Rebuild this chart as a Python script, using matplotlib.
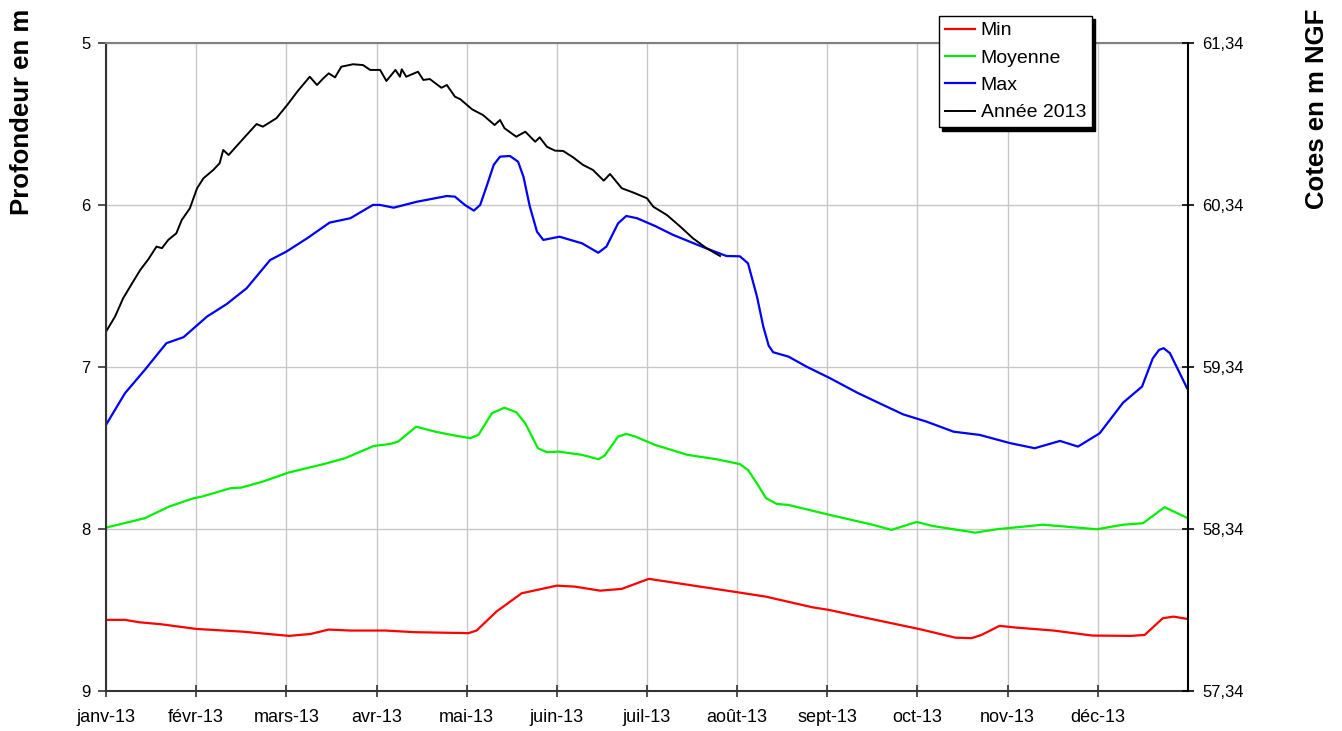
import matplotlib
matplotlib.use("Agg")
import matplotlib.pyplot as plt
from matplotlib.ticker import FuncFormatter

plt.rcParams['font.family'] = ['Liberation Sans', 'DejaVu Sans']

# Mois (axe des x en mois depuis le 1er janvier)
mois = ["janv-13", "févr-13", "mars-13", "avr-13", "mai-13", "juin-13",
        "juil-13", "août-13", "sept-13", "oct-13", "nov-13", "déc-13"]

# Année 2013 (profondeur en m)
x_2013 = [0.00, 0.10, 0.19, 0.29, 0.38, 0.47, 0.56, 0.62, 0.69, 0.78, 0.84, 0.93,
          1.01, 1.08, 1.19, 1.26, 1.30, 1.36, 1.45, 1.56, 1.67, 1.74, 1.89, 2.01,
          2.13, 2.26, 2.34, 2.41, 2.47, 2.54, 2.61, 2.74, 2.85, 2.93, 3.04, 3.11,
          3.21, 3.26, 3.28, 3.33, 3.46, 3.52, 3.59, 3.72, 3.78, 3.87, 3.93, 4.06,
          4.18, 4.31, 4.37, 4.42, 4.55, 4.65, 4.76, 4.81, 4.89, 4.98, 5.07, 5.18,
          5.29, 5.40, 5.52, 5.59, 5.72, 5.85, 6.00, 6.07, 6.22, 6.37, 6.51, 6.66,
          6.81]
y_2013 = [6.783, 6.69, 6.577, 6.484, 6.402, 6.336, 6.258, 6.268, 6.217, 6.176, 6.094, 6.022,
          5.898, 5.837, 5.785, 5.744, 5.662, 5.693, 5.637, 5.569, 5.502, 5.518, 5.466, 5.384,
          5.296, 5.21, 5.261, 5.22, 5.189, 5.214, 5.148, 5.133, 5.138, 5.168, 5.168, 5.236,
          5.168, 5.21, 5.164, 5.21, 5.179, 5.23, 5.224, 5.278, 5.261, 5.333, 5.349, 5.411,
          5.446, 5.508, 5.477, 5.528, 5.58, 5.549, 5.611, 5.584, 5.642, 5.666, 5.668, 5.707,
          5.754, 5.785, 5.851, 5.81, 5.898, 5.925, 5.96, 6.012, 6.063, 6.135, 6.207, 6.268,
          6.316]

# Max
x_max = [0.00, 0.21, 0.43, 0.67, 0.86, 1.12, 1.34, 1.56, 1.82, 2.00, 2.23, 2.48,
         2.71, 2.96, 3.04, 3.19, 3.45, 3.78, 3.87, 3.98, 4.08, 4.15, 4.22, 4.30,
         4.37, 4.48, 4.57, 4.63, 4.70, 4.78, 4.85, 5.03, 5.28, 5.46, 5.55, 5.68,
         5.77, 5.89, 6.09, 6.29, 6.59, 6.88, 7.03, 7.12, 7.22, 7.29, 7.35, 7.40,
         7.57, 7.77, 8.03, 8.33, 8.58, 8.84, 9.10, 9.40, 9.69, 10.03, 10.30, 10.58,
         10.78, 11.02, 11.28, 11.49, 11.61, 11.68, 11.73, 11.80, 11.99]
y_max = [7.358, 7.163, 7.019, 6.854, 6.817, 6.69, 6.612, 6.515, 6.341, 6.289, 6.207, 6.11,
         6.083, 6.001, 6.001, 6.018, 5.981, 5.946, 5.95, 6.001, 6.036, 6.001, 5.888, 5.754,
         5.703, 5.699, 5.734, 5.827, 6.01, 6.166, 6.217, 6.197, 6.238, 6.296, 6.258, 6.114,
         6.069, 6.083, 6.131, 6.186, 6.254, 6.316, 6.318, 6.361, 6.567, 6.752, 6.87, 6.91,
         6.937, 6.999, 7.07, 7.159, 7.225, 7.293, 7.338, 7.4, 7.42, 7.471, 7.502, 7.457,
         7.492, 7.41, 7.221, 7.122, 6.947, 6.895, 6.885, 6.916, 7.132]

# Moyenne
x_moy = [0.00, 0.43, 0.70, 0.97, 1.06, 1.38, 1.50, 1.74, 2.02, 2.42, 2.65, 2.97,
         3.15, 3.24, 3.44, 3.65, 3.87, 4.04, 4.13, 4.28, 4.42, 4.55, 4.65, 4.79,
         4.89, 5.02, 5.28, 5.46, 5.53, 5.68, 5.77, 5.87, 6.09, 6.45, 6.77, 7.03,
         7.12, 7.22, 7.32, 7.44, 7.57, 8.03, 8.51, 8.71, 8.99, 9.17, 9.64, 9.88,
         10.39, 10.99, 11.28, 11.50, 11.74, 12.00]
y_moy = [7.992, 7.934, 7.862, 7.811, 7.801, 7.749, 7.745, 7.708, 7.653, 7.599, 7.564, 7.488,
         7.476, 7.461, 7.369, 7.4, 7.424, 7.44, 7.42, 7.286, 7.252, 7.28, 7.348, 7.502,
         7.527, 7.523, 7.543, 7.57, 7.548, 7.43, 7.414, 7.43, 7.482, 7.543, 7.57, 7.6,
         7.636, 7.72, 7.81, 7.846, 7.852, 7.914, 7.975, 8.006, 7.957, 7.982, 8.023, 8.002,
         7.974, 8.002, 7.974, 7.965, 7.866, 7.934]

# Min
x_min = [0.00, 0.21, 0.37, 0.61, 1.00, 1.52, 2.03, 2.27, 2.47, 2.71, 3.10, 3.42,
         4.02, 4.11, 4.33, 4.61, 5.00, 5.20, 5.48, 5.72, 6.02, 7.03, 7.32, 7.83,
         8.02, 8.33, 9.03, 9.42, 9.60, 9.71, 9.91, 10.08, 10.51, 10.94, 11.37, 11.52,
         11.72, 11.84, 11.99]
y_min = [8.561, 8.561, 8.576, 8.588, 8.617, 8.634, 8.66, 8.648, 8.621, 8.627, 8.627, 8.637,
         8.643, 8.627, 8.51, 8.397, 8.35, 8.356, 8.381, 8.37, 8.308, 8.393, 8.418, 8.483,
         8.5, 8.537, 8.619, 8.671, 8.674, 8.654, 8.598, 8.608, 8.627, 8.658, 8.66, 8.654,
         8.551, 8.541, 8.555]

fig = plt.figure(figsize=(13.42, 7.31), dpi=100)
ax = fig.add_axes([106 / 1342, 1 - 691 / 731, (1188 - 106) / 1342, (691 - 42.7) / 731])

ax.plot(x_min, y_min, color='#ff0000', lw=1.6, label='Min')
ax.plot(x_moy, y_moy, color='#00f000', lw=1.6, label='Moyenne')
ax.plot(x_max, y_max, color='#0000ff', lw=1.6, label='Max')
ax.plot(x_2013, y_2013, color='black', lw=1.4, label='Année 2013')

ax.set_xlim(0, 12)
ax.set_ylim(9, 5)
ax.set_yticks([5, 6, 7, 8, 9])
ax.set_xticks(range(12))
ax.set_xticklabels(mois)
ax.grid(True, color='#c8c8c8', lw=1)
ax.set_axisbelow(True)

ax.tick_params(axis='x', direction='inout', length=8, pad=9, labelsize=13, width=1.2, color='#333333')
ax.tick_params(axis='y', direction='out', length=6, pad=5, labelsize=12, width=1.2, color='#333333')
ax.spines['left'].set_color('#333333')
ax.spines['left'].set_linewidth(1.5)
ax.spines['bottom'].set_color('#333333')
ax.spines['bottom'].set_linewidth(1.5)
ax.spines['top'].set_color('#808080')
ax.spines['top'].set_linewidth(1.5)
ax.spines['right'].set_visible(False)

# Axe de droite : cotes NGF
ax2 = ax.twinx()
ax2.set_ylim(57.34, 61.34)
ax2.set_yticks([57.34, 58.34, 59.34, 60.34, 61.34])
ax2.yaxis.set_major_formatter(FuncFormatter(lambda v, p: f"{v:.2f}".replace('.', ',')))
ax2.tick_params(axis='y', direction='inout', length=9, pad=6, labelsize=12, width=1.2)
for s in ['left', 'top', 'bottom']:
    ax2.spines[s].set_visible(False)
ax2.spines['right'].set_color('black')
ax2.spines['right'].set_linewidth(1.5)

fig.text(22 / 1342, 1 - 9 / 731, 'Profondeur en m', rotation=90, ha='center', va='top',
         fontsize=18.5, fontweight='bold')
fig.text(1317 / 1342, 1 - 9 / 731, 'Cotes en m NGF', rotation=90, ha='center', va='top',
         fontsize=18.5, fontweight='bold')

leg = ax.legend(loc='upper left', bbox_to_anchor=(939 / 1342, 1 - 16 / 731),
                bbox_transform=fig.transFigure, fontsize=14, frameon=True,
                fancybox=False, framealpha=1, edgecolor='black', borderaxespad=0,
                handlelength=1.55, handletextpad=0.3, labelspacing=0.5,
                borderpad=0.3, shadow={'color': 'black', 'alpha': 1, 'ox': 2.5, 'oy': -2.5})
leg.get_frame().set_linewidth(1.0)
leg.set_zorder(10)

fig.savefig('out.png', dpi=100)
